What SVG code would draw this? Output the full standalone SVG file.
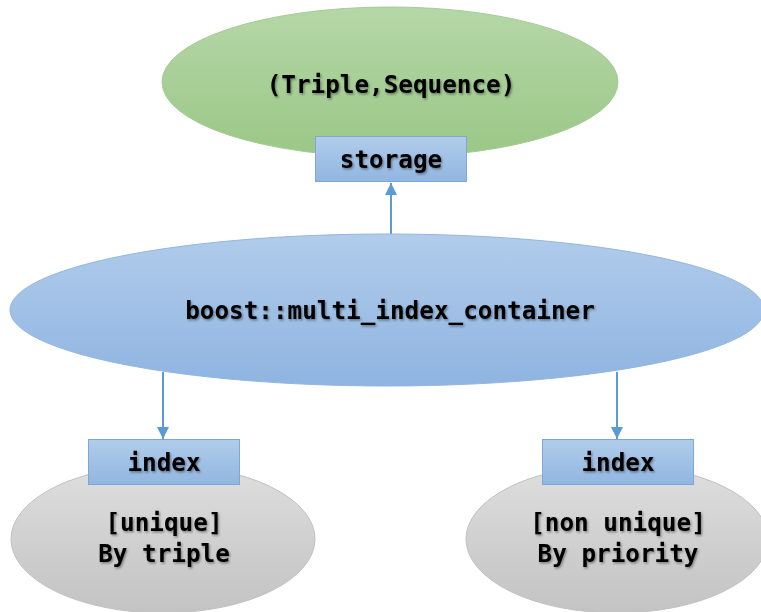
<svg xmlns="http://www.w3.org/2000/svg" width="761" height="612" viewBox="0 0 761 612">
  <style>
    .lbl { font-family: "DejaVu Sans Mono", "Liberation Mono", monospace; font-weight: bold; font-size: 24.3px; fill: #000; text-anchor: middle; filter: url(#shadow); }
    .box { fill: url(#gBox); stroke: #7ea7d8; stroke-width: 1; }
    .gray { fill: url(#gGray); stroke: #c0c0c0; stroke-width: 1; }
    .conn { stroke: #5b9bd5; stroke-width: 2; fill: none; marker-end: url(#arrow); }
  </style>
  <defs>
    <linearGradient id="gGreen" x1="0" y1="0" x2="0" y2="1">
      <stop offset="0" stop-color="#b5d7a8"/>
      <stop offset="1" stop-color="#9bc786"/>
    </linearGradient>
    <linearGradient id="gBlue" x1="0" y1="0" x2="0" y2="1">
      <stop offset="0" stop-color="#b1cceb"/>
      <stop offset="1" stop-color="#8fb4e1"/>
    </linearGradient>
    <linearGradient id="gBox" x1="0" y1="0" x2="0" y2="1">
      <stop offset="0" stop-color="#b1ccea"/>
      <stop offset="1" stop-color="#91b6e1"/>
    </linearGradient>
    <linearGradient id="gGray" x1="0" y1="0" x2="0" y2="1">
      <stop offset="0" stop-color="#dedede"/>
      <stop offset="1" stop-color="#c3c3c3"/>
    </linearGradient>
    <filter id="shadow" x="-10%" y="-30%" width="120%" height="160%">
      <feDropShadow dx="1.2" dy="1.5" stdDeviation="0.8" flood-color="#000" flood-opacity="0.4"/>
    </filter>
    <marker id="arrow" viewBox="0 0 10 10" refX="10" refY="5" markerWidth="6.5" markerHeight="6" orient="auto" markerUnits="strokeWidth">
      <path d="M0,0 L10,5 L0,10 z" fill="#5b9bd5"/>
    </marker>
  </defs>

  <g id="connectors">
    <line class="conn" x1="391" y1="234" x2="391" y2="183"/>
    <line class="conn" x1="163" y1="372" x2="163" y2="439"/>
    <line class="conn" x1="617" y1="372" x2="617" y2="439"/>
  </g>

  <g id="node-triple-sequence">
    <ellipse cx="390" cy="82" rx="228" ry="75" fill="url(#gGreen)" stroke="#a6cb95" stroke-width="1"/>
    <text class="lbl" x="391" y="93">(Triple,Sequence)</text>
  </g>

  <g id="node-storage">
    <rect class="box" x="315.5" y="136.5" width="151" height="45"/>
    <text class="lbl" x="391" y="168">storage</text>
  </g>

  <g id="node-container">
    <ellipse cx="387" cy="310" rx="377" ry="76" fill="url(#gBlue)" stroke="#94b6df" stroke-width="1"/>
    <text class="lbl" x="390" y="319">boost::multi_index_container</text>
  </g>

  <g id="node-unique">
    <ellipse class="gray" cx="163" cy="539" rx="152" ry="74"/>
    <text class="lbl" x="164" y="531">[unique]</text>
    <text class="lbl" x="164" y="562">By triple</text>
  </g>

  <g id="node-index-left">
    <rect class="box" x="88.5" y="439.5" width="151" height="45"/>
    <text class="lbl" x="164" y="471">index</text>
  </g>

  <g id="node-nonunique">
    <ellipse class="gray" cx="617" cy="539" rx="151" ry="74"/>
    <text class="lbl" x="618" y="531">[non unique]</text>
    <text class="lbl" x="618" y="562">By priority</text>
  </g>

  <g id="node-index-right">
    <rect class="box" x="542.5" y="439.5" width="151" height="45"/>
    <text class="lbl" x="618" y="471">index</text>
  </g>
</svg>
